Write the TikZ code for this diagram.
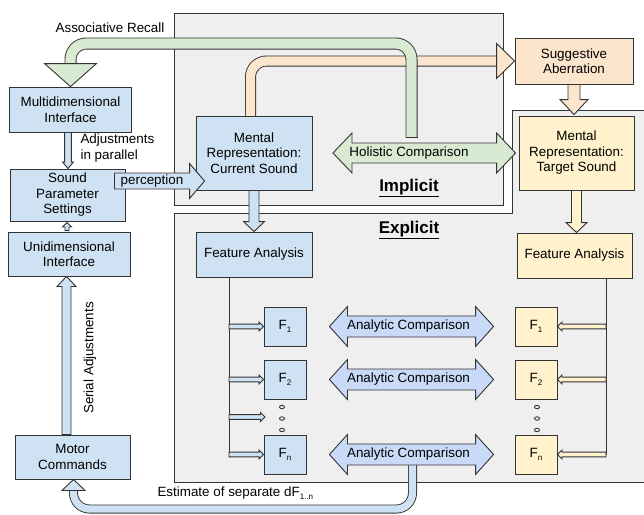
\documentclass[tikz,border=0pt]{standalone}
\usepackage{fontspec}
\setmainfont{Liberation Sans}
\usetikzlibrary{calc}

\definecolor{edge}{HTML}{333333}
\definecolor{boxblue}{HTML}{CFE2F3}
\definecolor{arrblue}{HTML}{C9DAF8}
\definecolor{boxgreen}{HTML}{D9EAD3}
\definecolor{boxpeach}{HTML}{FCE5CD}
\definecolor{boxyellow}{HTML}{FFF2CC}
\definecolor{zonegray}{HTML}{EFEFEF}

\pgfdeclarelayer{bg}
\pgfdeclarelayer{mid}
\pgfsetlayers{bg,mid,main}

% low small index, as in the drawing
\newcommand{\lowidx}[1]{\raisebox{-3.5pt}{\fontsize{8}{8}\selectfont #1}}

% block arrow: [style]{from}{to}{body half width}{head half width}{head length}
\newcommand{\blockarrow}[6][]{%
  \coordinate (ba-h) at ($(#3)!#6!(#2)$);
  \path[#1] ($(#2)!#4!90:(#3)$) -- ($(ba-h)!#4!90:(#3)$) -- ($(ba-h)!#5!90:(#3)$)
    -- (#3) -- ($(ba-h)!#5!-90:(#3)$) -- ($(ba-h)!#4!-90:(#3)$)
    -- ($(#2)!#4!-90:(#3)$) -- cycle;}
% double block arrow, same arguments
\newcommand{\dblarrow}[6][]{%
  \coordinate (da-a) at ($(#2)!#6!(#3)$);
  \coordinate (da-b) at ($(#3)!#6!(#2)$);
  \path[#1] (#2) -- ($(da-a)!#5!90:(#3)$) -- ($(da-a)!#4!90:(#3)$)
    -- ($(da-b)!#4!90:(#3)$) -- ($(da-b)!#5!90:(#3)$) -- (#3)
    -- ($(da-b)!#5!-90:(#3)$) -- ($(da-b)!#4!-90:(#3)$)
    -- ($(da-a)!#4!-90:(#3)$) -- ($(da-a)!#5!-90:(#3)$) -- cycle;}
% head of a bent band: [style]{base centre}{tip}{half width}
\newcommand{\bandtip}[4][]{%
  \path[#1] ($(#2)!#4!90:(#3)$) -- (#3) -- ($(#2)!#4!-90:(#3)$) -- cycle;}

\tikzset{
  box/.style={draw=edge, line width=0.9pt, fill=#1, align=center, inner sep=2pt},
  barr/.style={draw=edge, line width=0.9pt, fill=#1, line join=miter},
  band/.style n args={3}{draw=edge, line width=#2, rounded corners=16pt,
    postaction={draw=#1, line width=#3}},
  zone/.style={draw=edge, line width=0.9pt, fill=zonegray},
  lbl/.style={text=black},
  title/.style={font=\fontsize{17}{20}\selectfont\bfseries},
}

\begin{document}
\begin{tikzpicture}[x=1pt, y=-1pt, font=\fontsize{13.4}{15.5}\selectfont]
  \useasboundingbox (0,0) rectangle (644,514);

  % nodes
  \node[box=boxblue, minimum width=122pt, minimum height=45pt] (multi) at (70.5,109.5) {Multidimensional\\Interface};
  \node[box=boxblue, minimum width=115pt, minimum height=52pt] (sps) at (67.5,195) {Sound\\Parameter\\Settings};
  \node[box=boxblue, minimum width=122pt, minimum height=44pt] (uni) at (69,254) {Unidimensional\\Interface};
  \node[box=boxblue, minimum width=115pt, minimum height=44pt] (motor) at (72.5,457) {Motor\\Commands};
  \node[box=boxblue, minimum width=116pt, minimum height=74pt] (cur) at (254,153) {Mental\\Representation:\\Current Sound};
  \node[box=boxblue, minimum width=116pt, minimum height=45pt] (fal) at (254,254.5) {Feature Analysis};
  \node[box=boxpeach, minimum width=118pt, minimum height=46pt] (sugg) at (574,61) {Suggestive\\Aberration};
  \node[box=boxyellow, minimum width=115pt, minimum height=74pt] (tgt) at (576.5,153) {Mental\\Representation:\\Target Sound};
  \node[box=boxyellow, minimum width=115pt, minimum height=45pt] (far) at (574.5,255.5) {Feature Analysis};
  \foreach \n/\y in {1/326.5, 2/379.5, n/454.5} {
    \node[box=boxblue, minimum width=42pt, minimum height=39pt] (fl\n) at (285,\y) {F\lowidx{\n}};
    \node[box=boxyellow, minimum width=42pt, minimum height=39pt] (fr\n) at (536,\y) {F\lowidx{\n}};
  }
  \foreach \x in {282,537}
    \foreach \y in {407,418.5,430}
      \draw[edge, line width=0.9pt] (\x,\y) ellipse (2.5pt and 1.7pt);

  % labels
  \node[lbl] (recall) at (110,28) {Associative Recall};
  \node[lbl, align=left, anchor=west] (adj) at (77,148) {Adjustments\\in parallel};
  \node[lbl, rotate=90] (serial) at (90,358) {Serial Adjustments};
  \node[lbl, anchor=west] (est) at (154,493) {Estimate of separate dF\lowidx{1..n}};
  \node[title] (impl) at (409,188) {\underline{Implicit}};
  \node[title] (expl) at (409,230) {\underline{Explicit}};

  % regions
  \begin{pgfonlayer}{bg}
    \draw[zone] (174,13) rectangle (503,205);
    \draw[zone] (174,213) -- (512,213) -- (512,110) -- (646,110) -- (646,482) -- (174,482) -- cycle;
  \end{pgfonlayer}

  % bent bands
  \begin{pgfonlayer}{mid}
    \coordinate (ab-s) at ($(cur.north)+(-3.5,12)$);
    \coordinate (ab-e) at ($(sugg.west)+(-18,0)$);
    \draw[band={boxpeach}{11pt}{9.2pt}] (ab-s) |- (ab-e);
    \bandtip[barr=boxpeach]{ab-e}{sugg.west}{17.5pt}

    \coordinate (rc-s) at (411.5,137);
    \coordinate (rc-c) at (70.5,43.5);
    \coordinate (rc-e) at ($(multi.north)+(0,-23)$);
    \draw[band={boxgreen}{12pt}{10.2pt}] (rc-s) |- (rc-c) -- (rc-e);
    \draw[edge, line width=0.9pt] ($(rc-s)+(-6,0)$) -- ($(rc-s)+(6,0)$);
    \bandtip[barr=boxgreen]{rc-e}{multi.north}{26pt}

    \coordinate (es-s) at (412.5,462);
    \coordinate (es-c) at (73.5,509);
    \coordinate (es-e) at ($(motor.south)+(1,11)$);
    \draw[band={boxblue}{9pt}{7.2pt}] (es-s) |- (es-c) -- (es-e);
    \bandtip[barr=boxblue]{es-e}{$(motor.south)+(1,0)$}{11.5pt}
  \end{pgfonlayer}

  % arrows
  \coordinate (ms-s) at ($(multi.south)+(-2.5,0)$);
  \coordinate (ms-e) at (ms-s |- sps.north);
  \blockarrow[barr=boxblue]{ms-s}{ms-e}{3.4pt}{5.4pt}{6.5pt}
  \coordinate (us-s) at ($(uni.north)+(-2,-1)$);
  \coordinate (us-e) at ($(us-s |- sps.south)+(0,1)$);
  \blockarrow[barr=boxblue]{us-s}{us-e}{2pt}{4.5pt}{4.5pt}
  \coordinate (mu-s) at ($(motor.north)+(-6,0)$);
  \coordinate (mu-e) at (mu-s |- uni.south);
  \blockarrow[barr=boxblue]{mu-s}{mu-e}{4.5pt}{9.5pt}{10pt}
  \coordinate (pc-s) at ($(sps.east)+(-11,-14)$);
  \coordinate (pc-e) at ($(cur.west)+(9,28)$);
  \blockarrow[barr=boxblue]{pc-s}{pc-e}{8pt}{17.5pt}{15pt}
  \node[lbl] (pc) at (152,181) {perception};
  \blockarrow[barr=boxblue]{cur.south}{fal.north}{5pt}{10.5pt}{10pt}
  \coordinate (tf-e) at (tgt.south |- far.north);
  \blockarrow[barr=boxyellow]{tgt.south}{tf-e}{5pt}{10.5pt}{10pt}
  \coordinate (st-e) at ($(sugg.south |- tgt.north)+(0,-1)$);
  \blockarrow[barr=boxpeach]{sugg.south}{st-e}{6pt}{14pt}{15pt}

  \coordinate (hc-l) at (333,153);
  \coordinate (hc-r) at ($(tgt.west)+(-3,0)$);
  \dblarrow[barr=boxgreen]{hc-l}{hc-r}{10pt}{20pt}{19pt}
  \node[lbl] (hc) at (409,153) {Holistic Comparison};

  \foreach \n in {1,2,n} {
    \coordinate (ac\n-l) at ($(fl\n.east)+(23,0)$);
    \coordinate (ac\n-r) at ($(fr\n.west)+(-21,0)$);
    \dblarrow[barr=arrblue]{ac\n-l}{ac\n-r}{10.5pt}{20pt}{18pt}
    \node[lbl] (ac\n) at ($(ac\n-l)!0.5!(ac\n-r)+(-3,0)$) {Analytic Comparison};
  }

  % feature lines
  \coordinate (fl-top) at ($(fal.south)+(-25,0)$);
  \coordinate (fl-bot) at (fl-top |- fln.west);
  \draw[edge, line width=0.9pt] (fl-top) -- (fl-bot);
  \foreach \n in {1,2,n} {
    \coordinate (fa\n) at (fl-top |- fl\n.west);
    \blockarrow[barr=boxblue]{fa\n}{fl\n.west}{2.4pt}{4.5pt}{4.5pt}
  }
  \coordinate (fad) at (229,417);
  \coordinate (fad-e) at (265,417);
  \blockarrow[barr=boxblue]{fad}{fad-e}{2.4pt}{4.5pt}{4.5pt}

  \coordinate (fr-top) at ($(far.south)+(31.5,0)$);
  \coordinate (fr-bot) at (fr-top |- frn.east);
  \draw[edge, line width=0.9pt] (fr-top) -- (fr-bot);
  \foreach \n in {1,2,n} {
    \coordinate (fb\n) at (fr-top |- fr\n.east);
    \blockarrow[barr=boxyellow]{fb\n}{fr\n.east}{2.4pt}{4.5pt}{4.5pt}
  }
\end{tikzpicture}
\end{document}
